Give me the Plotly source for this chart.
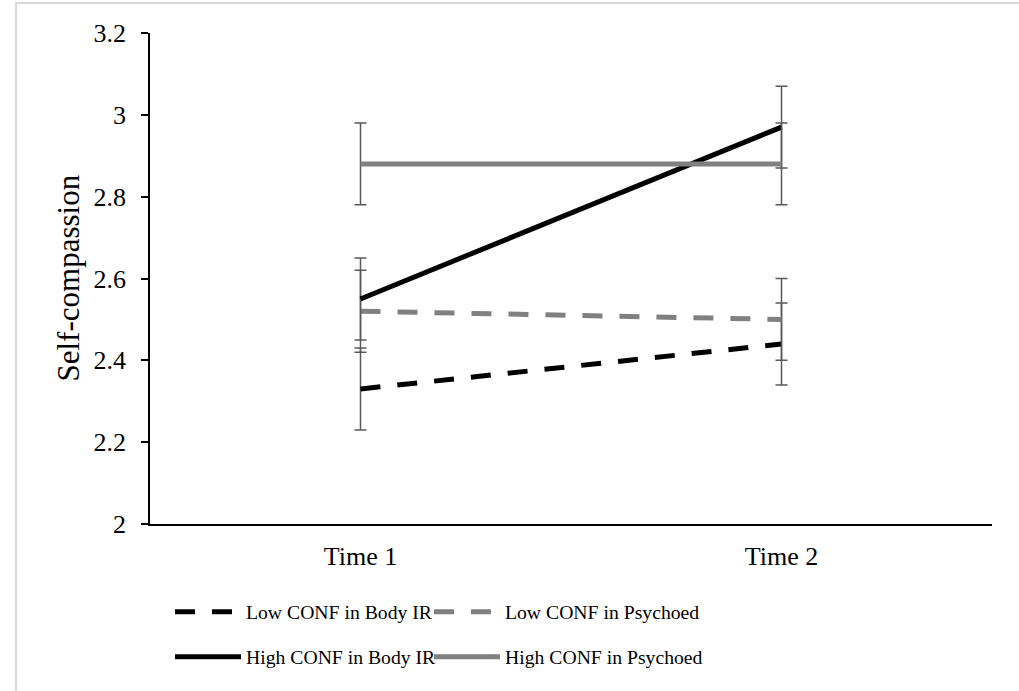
import plotly.graph_objects as go

categories = ["Time 1", "Time 2"]
series_names = ["Low CONF in Body IR", "Low CONF in Psychoed",
                "High CONF in Body IR", "High CONF in Psychoed"]
low_body = [2.33, 2.44]
low_psych = [2.52, 2.50]
high_body = [2.55, 2.97]
high_psych = [2.88, 2.88]
err_low_body = [0.10, 0.10]
err_low_psych = [0.10, 0.10]
err_high_body = [0.10, 0.10]
err_high_psych = [0.10, 0.10]
y_ticks = [2, 2.2, 2.4, 2.6, 2.8, 3, 3.2]
y_title = "Self-compassion"

values = [low_body, low_psych, high_body, high_psych]
errors = [err_low_body, err_low_psych, err_high_body, err_high_psych]
colors = ["#000000", "#808080", "#000000", "#808080"]
dashes = ["20px,17px", "20px,17px", "solid", "solid"]
legends = ["legend", "legend3", "legend2", "legend4"]

FONT = "Liberation Serif, Times New Roman, serif"

fig = go.Figure()
for name, v, e, c, d, lg in zip(series_names, values, errors, colors, dashes, legends):
    fig.add_trace(go.Scatter(
        x=categories, y=v, name=name, mode="lines",
        line=dict(color=c, width=5, dash=d),
        error_y=dict(type="data", array=e, visible=True, color="#595959",
                     thickness=1.5, width=6),
        legend=lg,
    ))

W, H = 1019, 691
L, R, T, B = 150, 27, 33, 167
PW, PH = W - L - R, H - T - B

def leg(px, py):
    return dict(xref="container", yref="container", x=px / W, y=1 - py / H,
                xanchor="left", yanchor="middle", orientation="v",
                font=dict(family=FONT, size=19.7, color="#000"),
                bgcolor="rgba(0,0,0,0)", itemwidth=66, borderwidth=0,
                tracegroupgap=0)

fig.update_layout(
    width=W, height=H,
    margin=dict(l=L, r=R, t=T, b=B, pad=0, autoexpand=False),
    paper_bgcolor="white", plot_bgcolor="white",
    font=dict(family=FONT, color="#000"),
    showlegend=True,
    legend=leg(170, 612),
    legend2=leg(170, 657),
    legend3=leg(429, 612),
    legend4=leg(429, 657),
    xaxis=dict(type="category", categoryorder="array", categoryarray=categories,
               range=[-0.5, 1.5], showline=True, linecolor="#000", linewidth=1.5,
               ticks="", showgrid=False, zeroline=False, ticklabelstandoff=8,
               tickfont=dict(family=FONT, size=26, color="#000")),
    yaxis=dict(range=[2, 3.2], tickvals=y_ticks, showline=True, linecolor="#000",
               linewidth=1.5, ticks="outside", ticklen=7, tickcolor="#000",
               tickwidth=1.5, showgrid=False, zeroline=False,
               ticklabelstandoff=10,
               tickfont=dict(family=FONT, size=26, color="#000")),
    annotations=[dict(text=y_title, xref="paper", yref="paper",
                      x=(68 - L) / PW, y=0.5, textangle=-90, showarrow=False,
                      xanchor="center", yanchor="middle",
                      font=dict(family=FONT, size=31, color="#000"))],
    shapes=[dict(type="rect", xref="paper", yref="paper",
                 x0=(16 - L) / PW, x1=(W + 20 - L) / PW,
                 y0=(H - B - H - 20) / PH, y1=(H - B - 3) / PH,
                 line=dict(color="#d9d9d9", width=2), layer="below")],
)

fig.write_html("out.html")
